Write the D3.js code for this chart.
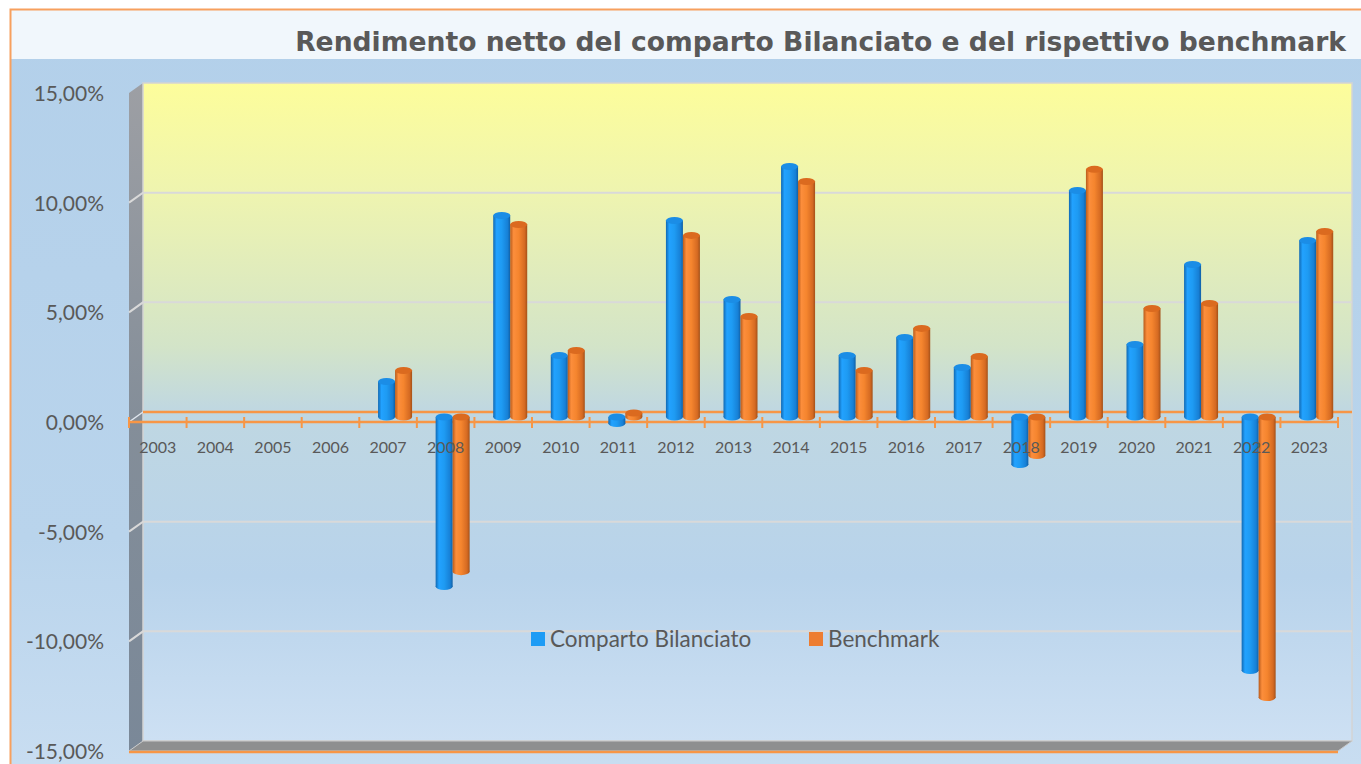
<!DOCTYPE html>
<html>
<head>
<meta charset="utf-8">
<script src="https://cdn.jsdelivr.net/npm/d3@7/dist/d3.min.js"></script>
<style>
  body { margin: 0; background: #fff; }
  text { font-family: Lato, "Open Sans", sans-serif; fill: #595959; }
</style>
</head>
<body>
<div id="chart"></div>
<script>
// data
var years = ["2003","2004","2005","2006","2007","2008","2009","2010","2011","2012","2013",
             "2014","2015","2016","2017","2018","2019","2020","2021","2022","2023"];
var comparto  = [null,null,null,null,1.62,-7.73,9.19,2.80,-0.30,8.96,5.36,
                 11.42,2.80,3.63,2.26,-2.17,10.33,3.31,6.95,-11.56,8.05];
var benchmark = [null,null,null,null,2.12,-7.05,8.78,3.03,0.18,8.28,4.58,
                 10.74,2.12,4.04,2.76,-1.76,11.29,4.95,5.18,-12.79,8.46];
var seriesNames = ["Comparto Bilanciato", "Benchmark"];
var yTicks = [15, 10, 5, 0, -5, -10, -15];
var title = "Rendimento netto del comparto Bilanciato e del rispettivo benchmark";

var W = 1361, H = 764;
var depth = {x: 14, y: -10};   // back wall offset vs front plane

var svg = d3.select("#chart").append("svg")
    .attr("width", W)
    .attr("height", H);
var defs = svg.append("defs");

function grad(id, stops, horiz) {
    var g = defs.append("linearGradient").attr("id", id)
        .attr("x1", 0).attr("y1", 0)
        .attr("x2", horiz ? 1 : 0).attr("y2", horiz ? 0 : 1);
    stops.forEach(function(s) {
        g.append("stop").attr("offset", s[0]).attr("stop-color", s[1]);
    });
}
grad("bg", [[0, "#b3d0ea"], [0.7, "#b9d4ec"], [1, "#c8ddf1"]]);
grad("wall", [[0, "#fdfd9b"], [0.17, "#eef4b0"], [0.4, "#d3e4c8"], [0.5, "#bfd7e2"],
              [0.75, "#b8d3eb"], [1, "#cde0f3"]]);
grad("side", [[0, "#9d9fa4"], [0.5, "#848e99"], [1, "#7a8898"]]);
grad("cyl0", [[0, "#1169b3"], [0.2, "#22a2ff"], [0.5, "#1e9bf3"], [0.85, "#1780d6"], [1, "#1060a6"]], true);
grad("cyl1", [[0, "#b95b1b"], [0.2, "#fc8e3c"], [0.5, "#f5852e"], [0.85, "#d56a22"], [1, "#a45119"]], true);

// background and title band
svg.append("rect").attr("x", 10).attr("y", 9).attr("width", W - 10).attr("height", H - 9)
    .attr("fill", "url(#bg)");
svg.append("rect").attr("x", 10).attr("y", 9).attr("width", W - 10).attr("height", 50)
    .attr("fill", "#f1f7fc");
svg.append("path")
    .attr("d", "M10.5," + H + "V9.5H" + W)
    .attr("fill", "none").attr("stroke", "#f7a05e").attr("stroke-width", 2);

svg.append("text")
    .attr("x", 1346).attr("y", 51)
    .attr("text-anchor", "end")
    .style("font-family", "'DejaVu Sans', sans-serif")
    .style("font-weight", "bold")
    .style("font-size", "26.6px")
    .text(title);

// scales (front plane)
var x = d3.scaleBand().domain(years).range([129, 1338]);
var y = d3.scaleLinear().domain([-15, 15]).range([751, 93]);
var inner = d3.scaleBand().domain(seriesNames).range([0, 34]);

var x0 = x.range()[0], x1 = x.range()[1];
var yTop = y(15), yBot = y(-15);

// side wall
svg.append("path")
    .attr("d", "M" + x0 + "," + yTop + "L" + (x0 + depth.x) + "," + (yTop + depth.y) +
               "L" + (x0 + depth.x) + "," + (yBot + depth.y) + "L" + x0 + "," + yBot + "Z")
    .attr("fill", "url(#side)");
// back wall
svg.append("rect")
    .attr("x", x0 + depth.x).attr("y", yTop + depth.y)
    .attr("width", x1 - x0).attr("height", yBot - yTop)
    .attr("fill", "url(#wall)")
    .attr("stroke", "#d4d4d4").attr("stroke-width", 1.5);
// floor
svg.append("path")
    .attr("d", "M" + x0 + "," + yBot + "L" + (x0 + depth.x) + "," + (yBot + depth.y) +
               "H" + (x1 + depth.x) + "L" + x1 + "," + yBot + "Z")
    .attr("fill", "#8e8f90").attr("stroke", "#c9c9c9").attr("stroke-width", 1);
svg.append("line")
    .attr("x1", x0).attr("x2", x1).attr("y1", yBot + 1).attr("y2", yBot + 1)
    .attr("stroke", "#f79646").attr("stroke-width", 2.5);

// gridlines on back and side wall
var grid = svg.append("g");
yTicks.filter(function(d) { return d !== 15 && d !== -15 && d !== 0; }).forEach(function(d) {
    var gy = y(d);
    grid.append("path")
        .attr("d", "M" + x0 + "," + gy + "L" + (x0 + depth.x) + "," + (gy + depth.y) + "H" + (x1 + depth.x))
        .attr("fill", "none").attr("stroke", "#d9d9d9").attr("stroke-width", 2);
});
// zero line on the back wall
grid.append("path")
    .attr("d", "M" + x0 + "," + y(0) + "L" + (x0 + depth.x) + "," + (y(0) + depth.y))
    .attr("stroke", "#dfe6ee").attr("stroke-width", 1.5);
grid.append("line")
    .attr("x1", x0 + depth.x).attr("x2", x1 + depth.x)
    .attr("y1", y(0) + depth.y).attr("y2", y(0) + depth.y)
    .attr("stroke", "#f79646").attr("stroke-width", 2.5);

// y axis labels
var loc = d3.formatLocale({decimal: ",", thousands: ".", grouping: [3], currency: ["", "€"], minus: "-"});
var fmt = loc.format(".2f");
var yAxis = svg.append("g")
    .attr("transform", "translate(" + (x0 - 22) + ",0)")
    .call(d3.axisLeft(y).tickValues(yTicks).tickSize(0)
        .tickFormat(function(d) { return fmt(d) + "%"; }));
yAxis.select(".domain").remove();
yAxis.selectAll("text")
    .attr("dy", "0.35em")
    .style("font-family", "Lato, sans-serif")
    .style("font-size", "21px")
    .attr("fill", "#595959");

// front category axis (line and ticks behind the bars)
var xAxis = svg.append("g")
    .attr("transform", "translate(0," + y(0) + ")");
xAxis.append("line")
    .attr("x1", x0).attr("x2", x1)
    .attr("stroke", "#f79646").attr("stroke-width", 2.5);
xAxis.selectAll(".tk")
    .data(years.concat(["end"]))
    .enter().append("line")
    .attr("x1", function(d) { return d === "end" ? x1 : x(d); })
    .attr("x2", function(d) { return d === "end" ? x1 : x(d); })
    .attr("y1", -5).attr("y2", 6)
    .attr("stroke", "#f79646").attr("stroke-width", 2);

// cylinders, drawn at mid depth
var mid = {x: depth.x / 2, y: depth.y / 2};
var rx = inner.bandwidth() / 2, ry = 3.5;
var capColors = ["#1b8de6", "#db6a1f"];
var rows = [];
[comparto, benchmark].forEach(function(vals, si) {
    vals.forEach(function(v, i) {
        if (v !== null) rows.push({year: years[i], s: si, v: v});
    });
});

var bars = svg.append("g").selectAll("g")
    .data(rows)
    .enter().append("g")
    .attr("transform", function(d) {
        var cx = x(d.year) + (x.bandwidth() - 34) / 2 + inner(seriesNames[d.s]) + mid.x;
        return "translate(" + cx + "," + mid.y + ")";
    });
bars.each(function(d) {
    var g = d3.select(this);
    var yv = y(d.v), y0 = y(0);
    var top = Math.min(yv, y0), bot = Math.max(yv, y0);
    var fill = "url(#cyl" + d.s + ")";
    g.append("ellipse")
        .attr("cx", rx).attr("cy", bot).attr("rx", rx).attr("ry", ry)
        .attr("fill", fill);
    g.append("rect")
        .attr("x", 0).attr("y", top).attr("width", 2 * rx).attr("height", bot - top)
        .attr("fill", fill);
    g.append("ellipse")
        .attr("cx", rx).attr("cy", top).attr("rx", rx).attr("ry", ry)
        .attr("fill", capColors[d.s]);
});

// category labels on top of the bars
svg.append("g")
    .attr("transform", "translate(0," + y(0) + ")")
    .selectAll("text")
    .data(years)
    .enter().append("text")
    .attr("x", function(d) { return x(d) + x.bandwidth() / 2; })
    .attr("y", 25)
    .attr("dy", "0.35em")
    .attr("text-anchor", "middle")
    .style("font-size", "16px")
    .text(function(d) { return d; });

// legend
var legColors = ["#1e9cf5", "#ed7d31"];
var legX = [531, 809];
var legend = svg.append("g").attr("transform", "translate(0," + 632 + ")");
seriesNames.forEach(function(name, i) {
    legend.append("rect")
        .attr("x", legX[i]).attr("y", 0).attr("width", 14).attr("height", 14)
        .attr("fill", legColors[i]);
    legend.append("text")
        .attr("x", legX[i] + 19).attr("y", 7)
        .attr("dy", "0.35em")
        .style("font-size", "22.5px")
        .text(name);
});
</script>
</body>
</html>
